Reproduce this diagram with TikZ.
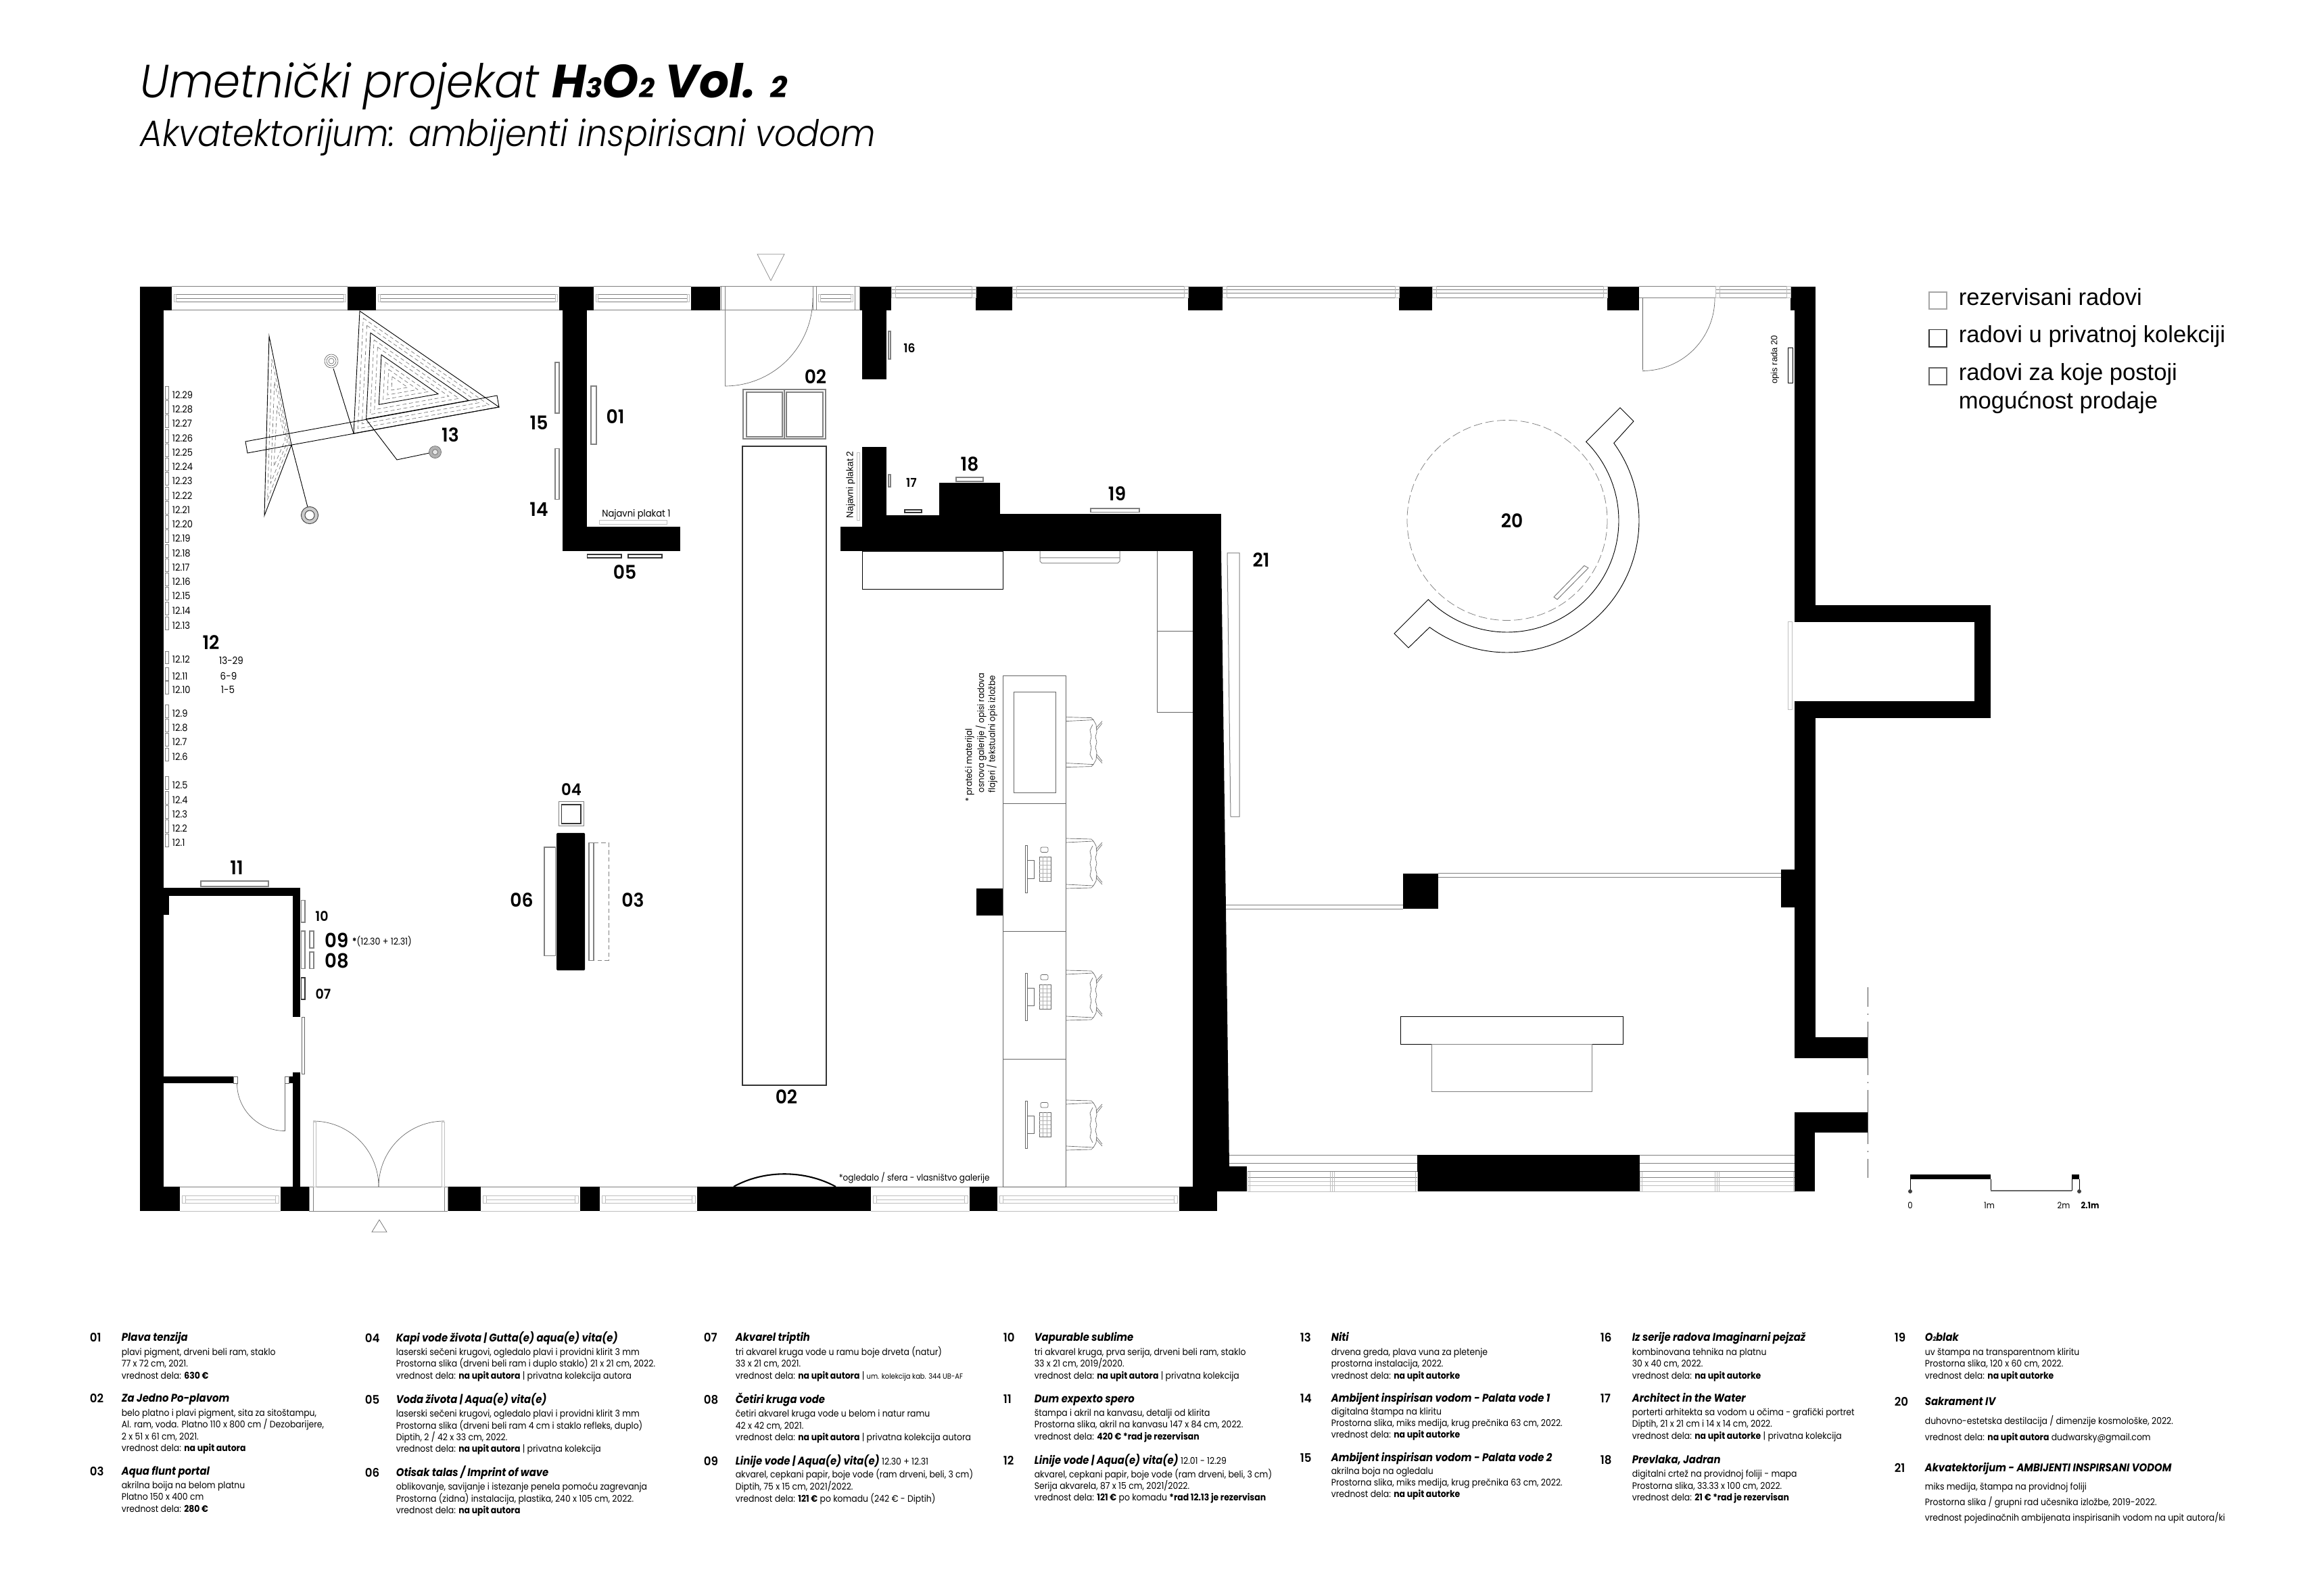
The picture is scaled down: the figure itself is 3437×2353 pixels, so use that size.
\documentclass[tikz,border=0pt]{standalone}
\usepackage{fontspec}
\usetikzlibrary{calc}
\setmainfont{Poppins}[FakeStretch=0.9]
\newfontfamily\ppf{Poppins}
\newfontfamily\ppm{Poppins SemiBold}[FakeStretch=0.95]
\newfontfamily\ppt{Poppins Light}[FakeStretch=0.93]
\newfontfamily\libf{Liberation Sans}
\newcounter{nn}
\newcommand\fsz[1]{\fontsize{\the\dimexpr #1pt*24/100\relax}{\the\dimexpr #1pt*30/100\relax}\selectfont}
\newcommand\tx[4][]{\stepcounter{nn}\node[inner sep=0pt,#1] (t\arabic{nn}) at (#2,#3) {#4};}
\newcommand\myNum[3]{\tx[anchor=base west]{#1}{#2+6}{\ppm\fsz{17.5}#3}}
\newcommand\myTit[3]{\tx[anchor=base west]{#1}{#2+5}{\fsz{16.5}\bfseries\itshape #3}}
\newcommand\myLine[3]{\tx[anchor=base west]{#1}{#2+4}{\fsz{13.8}#3}}
\newcommand\myLab[4]{\tx{#2}{#3}{\ppm\fsz{#1}#4}}
\newcommand\wall[4]{\fill[black] (#1,#2) rectangle (#3,#4);}
\newcommand\rc[5][ln]{\draw[#1] (#2,#3) rectangle (#4,#5);}
\newcommand\arcp[5][ln]{\draw[#1] plot[domain=#5,samples=40,smooth] ({#2+#4*cos(\x)},{#3+#4*sin(\x)});}
\newcommand\winA[2]{%
  \draw[lg] (#1,424)--(#2,424) (#1,459)--(#2,459) ({#1+3},436)--({#2-3},436) ({#1+3},447)--({#2-3},447) ({#1+6},442)--({#2-6},442);
  \draw[lgg] ({#1+3},436) rectangle ({#1+6},447) ({#2-6},436) rectangle ({#2-3},447);}
\newcommand\winBot[2]{%
  \draw[lg] (#1,1755)--(#2,1755);
  \draw[lgg] (#1,1791)--(#2,1791) ({#1+3},1768)--({#2-3},1768) ({#1+3},1779)--({#2-3},1779) ({#1+8},1774)--({#2-8},1774);
  \draw[lgg] ({#1+3},1768) rectangle ({#1+8},1779) ({#2-8},1768) rectangle ({#2-3},1779);}
\newcommand\winB[2]{%
  \draw[lg] (#1,424) rectangle (#2,441) (#1,429)--(#2,429) (#1,434)--(#2,434);
  \draw[lgg] (#1,424) rectangle ({#1+6},441) ({#2-6},424) rectangle (#2,441);}
\newcommand\winC[2]{%
  \draw[lg] (#1,1732.6)--(#2,1732.6) (#1,1741)--(#2,1741);
  \draw[lgg] (#1,1747)--(#2,1747) (#1,1753)--(#2,1753) (#1,1762)--(#2,1762);
  \draw[lgg] (#1,1732.6)--(#1,1762) ({#1+3},1732.6)--({#1+3},1762) ({#2-3},1732.6)--({#2-3},1762) (#2,1732.6)--(#2,1762);}
\newcommand\chair[1]{%
  \begin{scope}[shift={(1576,#1)}]
  \draw[lh] (1,-37)--(38,-36)--(41,-33)--(1,-31);
  \draw[lh] (1,37)--(38,36)--(41,33)--(1,31);
  \draw[lh] (41,-33)--(45,-26)--(46,-15)--(44,-8)--(46,0)--(44,8)--(46,15)--(45,26)--(41,33);
  \draw[lh] (40,-26)--(36,-18)--(38,-8)--(36,0)--(38,8)--(36,18)--(40,26);
  \draw[lh] (45,-21)--(54,-31) (46,-18)--(54,-28) (45,21)--(54,31) (46,18)--(54,28);
  \end{scope}}
\newcommand\comp[1]{%
  \begin{scope}[shift={(1483,#1)}]
  \draw[lh] (33,62) rectangle (36.5,132);
  \draw[lh] (36.5,84) rectangle (46,110.5);
  \draw[lh,rounded corners=0.5pt] (56,64.5) rectangle (67,72);
  \draw[lh] (54,79) rectangle (71,115);
  \foreach \k in {1,...,5}{\draw[line width=0.12pt,draw=black!30] (54,{79+6*\k})--(71,{79+6*\k});}
  \foreach \k in {1,2}{\draw[line width=0.12pt,draw=black!30] ({54+5.6*\k},79)--({54+5.6*\k},115);}
  \end{scope}}
\tikzset{
  ln/.style={line width=0.3pt,draw=black},
  lg/.style={line width=0.24pt,draw=black!50},
  lgg/.style={line width=0.24pt,draw=black!25},
  lh/.style={line width=0.16pt,draw=black!60},
  lk/.style={line width=0.22pt,draw=black},
  dsh/.style={line width=0.16pt,draw=black!55,dash pattern=on 1.4pt off 0.9pt},
  art/.style={line width=0.34pt,draw=black!50},
  artd/.style={line width=0.4pt,draw=black!80},
}
\begin{document}
\begin{tikzpicture}[x=0.24pt,y=-0.24pt]
\useasboundingbox (0,0) rectangle (3437,2353);
\fill[white] (0,0) rectangle (3437,2353);
% titles
\tx[anchor=base west]{207}{145}{\fsz{69}\itshape{\ppt Umetnički projekat }\ppf\bfseries H{\fsz{40}3}O{\fsz{40}2} Vol. {\fsz{44}2}}
\tx[anchor=base west]{207}{217}{\ppt\fsz{54.2}\itshape Akvatektorijum: ambijenti inspirisani vodom}
% outer walls
\wall{207}{424}{242}{1791}
\wall{207}{424}{254}{459}
\wall{207}{1755}{266}{1791}
\foreach \a/\b in {514/556,827/878,1022/1065,1271/1318,1443/1497,1757/1808,2069/2118,2377/2424,2648/2685}{\wall{\a}{424}{\b}{459}}
\winA{254}{514}\winA{556}{827}\winA{878}{1022}\winA{1207}{1264}
% door frames top
\draw[lg] (1065,424)--(1271,424) (1065,459)--(1271,459);
\draw[lg] (1066,424) rectangle (1072,459) (1202,424) rectangle (1207,459) (1264,424) rectangle (1271,459);
\draw[lg] (1072,441)--(1072,571);
\arcp[lh]{1072}{441}{130}{0:90}
\draw[line width=0.16pt,draw=black!50] (1140,415)--(1120,376)--(1160,376)--cycle;
% top windows right
\winB{1318}{1443}\winB{1497}{1757}\winB{1808}{2069}\winB{2118}{2377}
\winB{2537}{2648}
\draw[lg] (2424,424)--(2537,424) (2424,441)--(2537,441);
\draw[lh] (2429,441.5)--(2429,547);
\arcp[lh]{2429}{441.5}{107}{0:90}
% bottom
\foreach \a/\b in {415/457,662/711,858/887,1031/1288,1434/1475,1744/1800}{\wall{\a}{1755}{\b}{1791}}
\winBot{266}{415}\winBot{711}{858}\winBot{887}{1031}\winBot{1288}{1434}\winBot{1475}{1744}
\draw[lg] (457,1755)--(662,1755) (457,1791)--(662,1791);
\draw[lg] (457,1755)--(457,1791) (463,1755)--(463,1791) (657,1755)--(657,1791) (662,1755)--(662,1791);
\draw[lgg] (463,1659) rectangle (467,1755) (653,1659) rectangle (657,1755);
\arcp[lh]{463}{1755}{97}{-90:0}
\arcp[lh]{657}{1755}{97}{-180:-90}
\draw[lh] (561,1804)--(550,1822)--(572,1822)--cycle;
% mirror
\draw[line width=0.5pt,draw=black] (1085,1755) .. controls (1130,1730) and (1190,1730) .. (1236,1755);
% small room
\wall{207}{1313}{444}{1325}
\wall{207}{1313}{250}{1353}
\wall{433}{1313}{444}{1504}
\wall{433}{1586}{444}{1755}
\wall{242}{1592}{345}{1602}
\wall{427}{1592}{433}{1602}
\draw[lh] (345,1592) rectangle (351,1602) (421,1592) rectangle (427,1602);
\draw[lh] (446,1504) rectangle (450,1588);
\draw[lh] (421,1602)--(421,1673);
\arcp[lh]{421}{1602}{70.5}{90:180}
% wall 01/15/05
\wall{832}{459}{868}{779}
\wall{832}{779}{1006}{815}
% wall 16
\wall{1275}{459}{1311}{561}
% wall 17..19
\wall{1275}{661}{1311}{762}
\wall{1275}{762}{1806}{815}
\wall{1243}{779}{1275}{815}
\wall{1389}{714}{1479}{762}
\wall{1479}{760}{1806}{762}
\fill[black] (1764,815)--(1806,815)--(1818,1725)--(1764,1725)--cycle;
\wall{1764}{1725}{1844}{1762}
% right section
\draw[lg] (1818,1708)--(2096,1708) (1818,1720)--(2096,1720) (2425,1708)--(2655,1708) (2425,1720)--(2655,1720);
\wall{2096}{1708}{2425}{1762}
\winC{1845}{1970}\winC{1970}{2096}\winC{2425}{2539}\winC{2539}{2655}
\draw[lg] (1813,1339)--(2075,1339) (1813,1344.5)--(2075,1344.5) (2127,1292)--(2634,1292) (2127,1298)--(2634,1298);
\wall{2075}{1292}{2127}{1344.5}
\wall{2634}{1286}{2684}{1342}
% right wall
\wall{2654}{424}{2685}{920.5}
\wall{2654}{895.5}{2944}{920.5}
\wall{2920}{895.5}{2944}{1061.6}
\wall{2654}{1037.5}{2944}{1061.6}
\wall{2654}{1037.5}{2685}{1565}
\wall{2654}{1534}{2762}{1565}
\wall{2654}{1644.5}{2762}{1675}
\wall{2654}{1644.5}{2684}{1762}
\draw[lgg] (2644,920) rectangle (2650,1050);
\draw[lk] (2644,514) rectangle (2651,566);
\tx[rotate=90]{2625}{532}{\fsz{13}\libf opis rada 20}
\draw[line width=0.24pt,draw=black!70,dash pattern=on 19pt off 2.4pt on 0.5pt off 2.4pt,dash phase=12pt] (2762,1460)--(2762,1742);
% bench
\draw[lk] (2071,1503) rectangle (2400,1544);
\draw[lg] (2117,1544) rectangle (2354,1614);
% scale bar
\wall{2825}{1737}{2944}{1744}
\wall{3064}{1737}{3075}{1744}
\draw[lk] (2825,1744)--(2825,1762) (2944,1744)--(2944,1761) (3064,1744)--(3064,1761) (3075,1744)--(3075,1762);
\draw[line width=0.4pt,draw=black!60] (2944,1761)--(3064,1761);
\fill[black!75] (2825,1762) circle[radius=3];
\fill[black!75] (3075,1762) circle[radius=3];
\tx{2825}{1783}{\fsz{13}0}
\tx{2942}{1783}{\fsz{13}1m}
\tx{3052}{1783}{\fsz{13}2m}
\tx{3091}{1783}{\fsz{13}\bfseries 2.1m}
% artwork 20
\draw[line width=0.18pt,draw=black!50,dash pattern=on 3pt off 1.2pt] (2229,769.5) circle[radius=148];
\draw[lk] plot[domain=-45:135,samples=70,smooth] ({2229+165*cos(\x)},{770+165*sin(\x)}) -- (2062,937) -- (2083,958) -- (2114,928)
  -- plot[domain=126:-36,samples=70,smooth] ({2229+195*cos(\x)},{770+195*sin(\x)}) -- (2416,623) -- (2396,603) -- cycle;
\draw[lg] (2343,836.6)--(2349,840)--(2303,886.6)--(2298,883)--cycle;
% artwork 13
\coordinate (A) at (532,460);\coordinate (B) at (738,602);\coordinate (C) at (523,641);
\coordinate (I) at (580,557);\coordinate (J) at (603,573);\coordinate (K) at (579,577);
\foreach \t in {0,0.333,0.667}{\draw[lk] ($(A)!\t!(I)$)--($(B)!\t!(J)$)--($(C)!\t!(K)$)--cycle;}
\foreach \t in {0.11,0.22,0.44,0.55,0.78,0.89,1}{\draw[dsh] ($(A)!\t!(I)$)--($(B)!\t!(J)$)--($(C)!\t!(K)$)--cycle;}
\draw[lk] (398,497)--(431,658)--(391,762.5)--cycle;
\coordinate (P) at (398,497);\coordinate (Q) at (431,658);\coordinate (R) at (391,762.5);
\coordinate (S) at (410,600);\coordinate (T) at (422,650);\coordinate (U) at (405,690);
\foreach \t in {0.33,0.66,1}{\draw[dsh] ($(P)!\t!(S)$)--($(Q)!\t!(T)$)--($(R)!\t!(U)$)--cycle;}
\draw[lk] (363,653)--(735,585)--(738,602)--(366,670)--cycle;
\draw[lk] (431,658)--(455,750);
\draw[lk] (493,545)--(523,641);
\draw[lk] (542,621)--(587,680)--(635,670);
\draw[line width=0.24pt,draw=black!70,fill=black!20,even odd rule] (458,762) circle[radius=12.6] (458,762) circle[radius=7];
\draw[lh,fill=white] (490,534) circle[radius=10];
\draw[lh] (490,534) circle[radius=7] (490,534) circle[radius=4];
\draw[lh,fill=black!30] (643.5,668.6) circle[radius=9];
\draw[lh,fill=black!10] (643.5,668.6) circle[radius=4];
% art pieces
\rc[art]{821}{536}{827}{611}
\rc[art]{821}{663.5}{827}{738.5}
\rc[art]{874}{571}{882}{657}
\rc[lgg]{886}{770}{986}{776}
\rc[artd]{868.5}{820}{919}{825}
\rc[artd]{929}{820}{979}{825}
\rc[art]{1314}{490}{1317}{531}
\rc[art]{1314}{702}{1317}{720}
\rc[artd]{1338}{754}{1363}{758}
\rc[art]{1414}{706}{1454}{712}
\rc[art]{1613}{752}{1685}{757.5}
\rc[lgg]{1267}{670}{1271}{770}
\rc[art]{297}{1303}{397}{1311}
\rc[art]{445.5}{1331.5}{451}{1364}
\rc[art]{445.5}{1377}{451}{1432.5}
\rc[art]{458}{1377}{464}{1402}
\rc[art]{458}{1408}{464}{1432.5}
\rc[artd]{445.5}{1446}{451}{1478}
% free-standing
\rc[lg]{826}{1186}{863}{1222}
\rc[artd]{830.6}{1190}{859}{1218}
\fill[black,rounded corners=0.3pt] (823,1232) rectangle (865,1435);
\rc[art]{805}{1253}{821.5}{1413.6}
\rc[art]{871}{1246.5}{878}{1420.5}
\draw[line width=0.24pt,draw=black!50,dash pattern=on 1.6pt off 1pt] (878,1246.5)--(900,1246.5)--(900,1420.5)--(878,1420.5);
% 02
\rc[art]{1099}{576}{1221}{649}
\draw[art] (1160,576)--(1160,649);
\rc[art]{1104}{580}{1157}{646}
\rc[art]{1163}{580}{1217}{646}
\draw[line width=0.3pt,draw=black!80] (1098,660) rectangle (1222,1605);
% under wall
\draw[lk] (1275,815) rectangle (1483,871);
\draw[lg] (1538,815)--(1538,830) -- (1541,833)--(1653,833)--(1656,830)--(1656,815) (1538,825)--(1656,825);
\draw[lh] (1711,815)--(1711,1053)--(1764,1053) (1711,933)--(1764,933);
% tables
\draw[lh] (1483,999) rectangle (1576,1755);
\foreach \y in {1188.5,1377,1566}{\draw[lh] (1483,\y)--(1576,\y);}
\draw[lh] (1499,1023) rectangle (1561,1172);
\wall{1443.5}{1313.6}{1483}{1353.5}
\comp{1188.5}\comp{1377}\comp{1566}
\chair{1097.6}\chair{1277}\chair{1472}\chair{1664}
% 21
\draw[lg] (1815,818)--(1833,818)--(1833,1208)--(1820,1208)--cycle;
% 12.x
\foreach \n/\y in {29/584,28/605,27/626,26/648,25/669,24/690,23/711,22/733,21/754,20/775,19/796,18/818,17/839,16/860,15/881,14/903,13/925,
  12/975.6,11/1000,10/1020,9/1055,8/1076,7/1097,6/1119,5/1161,4/1183,3/1204,2/1225,1/1246}{
  \draw[lg] (244.5,{\y-12.3}) rectangle (249,{\y+6.3});
  \tx[anchor=west]{254}{\y}{\fsz{14.5}12.\n}
}
\tx[anchor=center]{342}{977}{\fsz{15}13-29}
\tx[anchor=center]{338}{1000}{\fsz{15}6-9}
\tx[anchor=center]{337}{1020}{\fsz{15}1-5}
% labels
\myLab{28}{797}{625}{15}
\myLab{28}{910}{616}{01}
\myLab{28}{797}{753.5}{14}
\myLab{28}{666}{643}{13}
\myLab{28}{924}{846}{05}
\myLab{28}{312}{950}{12}
\myLab{28}{350}{1283}{11}
\myLab{20}{476}{1355}{10}
\myLab{29}{498}{1391}{09}
\myLab{29}{498}{1421}{08}
\myLab{20}{478}{1470}{07}
\myLab{24}{845}{1168}{04}
\myLab{28}{771.5}{1331.5}{06}
\myLab{28}{936}{1331.5}{03}
\myLab{28}{1206}{557}{02}
\myLab{28}{1163}{1622}{02}
\myLab{18}{1345}{515}{16}
\myLab{18}{1348}{714}{17}
\myLab{28}{1434}{686}{18}
\myLab{28}{1652}{730}{19}
\myLab{28}{1865}{828}{21}
\myLab{28}{2236}{770}{20}
\tx[anchor=west]{520}{1392}{\fsz{14}\textbf{*}(12.30 + 12.31)}
\tx{941}{761}{\fsz{14.5}Najavni plakat 1}
\tx[rotate=90]{1258}{717}{\fsz{14}\libf Najavni plakat 2}
\tx[anchor=west]{1240}{1742}{\fsz{13.4}*ogledalo / sfera - vlasništvo galerije}
\tx[rotate=90,anchor=west]{1434}{1186}{\fsz{13.2}* prateći materijal}
\tx[rotate=90,anchor=west]{1451}{1173}{\fsz{13.2}osnova galerije / opisi radova}
\tx[rotate=90,anchor=west]{1467}{1173}{\fsz{13.2}flajeri / tekstualni opis izložbe}
% legend
\draw[line width=0.4pt,draw=black!35] (2853,432) rectangle (2879,457);
\draw[line width=0.4pt,draw=black!80] (2853,487.5) rectangle (2879,513);
\draw[line width=0.4pt,draw=black!60] (2853,544) rectangle (2879,569);
\tx[anchor=west]{2896}{439}{\libf\fsz{34.6}rezervisani radovi}
\tx[anchor=west]{2896}{498}{\libf\fsz{34.6}radovi u privatnoj kolekciji}
\tx[anchor=west]{2896}{554}{\libf\fsz{34.6}radovi za koje postoji}
\tx[anchor=west]{2896}{595}{\libf\fsz{34.6}mogućnost prodaje}
% list col 1
\myNum{132}{1978}{01}\myTit{179}{1978}{Plava tenzija}
\myLine{179}{2000}{plavi pigment, drveni beli ram, staklo}
\myLine{179}{2017}{77 x 72 cm, 2021.}
\myLine{179}{2035}{vrednost dela: \textbf{630 €}}
\myNum{132}{2068}{02}\myTit{179}{2068}{Za Jedno Po-plavom}
\myLine{179}{2090}{belo platno i plavi pigment, sita za sitoštampu,}
\myLine{179}{2107}{Al. ram, voda. Platno 110 x  800 cm / Dezobarijere,}
\myLine{179}{2125}{2 x 51 x 61 cm, 2021.}
\myLine{179}{2142}{vrednost dela: \textbf{na upit autora}}
\myNum{132}{2176}{03}\myTit{179}{2176}{Aqua flunt portal}
\myLine{179}{2197}{akrilna boija na belom platnu}
\myLine{179}{2214}{Platno 150 x  400 cm}
\myLine{179}{2232}{vrednost dela: \textbf{280 €}}
% col 2
\myNum{539}{1979}{04}\myTit{585}{1979}{Kapi vode života | Gutta(e) aqua(e) vita(e)}
\myLine{585}{2000}{laserski sečeni krugovi, ogledalo plavi i providni klirit 3 mm}
\myLine{585}{2017}{Prostorna slika (drveni beli ram i duplo staklo) 21 x 21 cm, 2022.}
\myLine{585}{2035}{vrednost dela: \textbf{na upit autora} | privatna kolekcija autora}
\myNum{539}{2070}{05}\myTit{585}{2070}{Voda života | Aqua(e) vita(e)}
\myLine{585}{2091}{laserski sečeni krugovi, ogledalo plavi i providni klirit 3 mm}
\myLine{585}{2109}{Prostorna slika (drveni beli ram 4 cm i staklo refleks, duplo)}
\myLine{585}{2126}{Diptih,  2 / 42 x 33 cm, 2022.}
\myLine{585}{2143}{vrednost dela: \textbf{na upit autora} | privatna kolekcija}
\myNum{539}{2178}{06}\myTit{585}{2178}{Otisak talas / Imprint of wave}
\myLine{585}{2199}{oblikovanje, savijanje i istezanje penela pomoću zagrevanja}
\myLine{585}{2217}{Prostorna (zidna) instalacija, plastika, 240 x 105 cm, 2022.}
\myLine{585}{2234}{vrednost dela: \textbf{na upit autora}}
% col 3
\myNum{1040}{1978}{07}\myTit{1087}{1978}{Akvarel triptih}
\myLine{1087}{2000}{tri akvarel kruga vode u ramu boje drveta (natur)}
\myLine{1087}{2017}{33 x 21 cm, 2021.}
\myLine{1087}{2035}{vrednost dela: \textbf{na upit autora} | {\fsz{11}um. kolekcija kab. 344 UB-AF}}
\myNum{1040}{2070}{08}\myTit{1087}{2070}{Četiri kruga vode}
\myLine{1087}{2091}{četiri akvarel kruga vode u belom i natur ramu}
\myLine{1087}{2109}{42 x  42 cm, 2021.}
\myLine{1087}{2126}{vrednost dela: \textbf{na upit autora}  | privatna kolekcija autora}
\myNum{1040}{2161}{09}\myTit{1087}{2161}{Linije vode | Aqua(e) vita(e) {\mdseries\upshape\fsz{13.8}12.30 + 12.31}}
\myLine{1087}{2181}{akvarel, cepkani papir, boje vode (ram drveni, beli, 3 cm)}
\myLine{1087}{2199}{Diptih, 75 x  15 cm, 2021/2022.}
\myLine{1087}{2217}{vrednost dela: \textbf{121 €} po komadu (242 € - Diptih)}
% col 4
\myNum{1483}{1978}{10}\myTit{1529}{1978}{Vapurable sublime}
\myLine{1529}{2000}{tri akvarel kruga, prva serija, drveni beli ram, staklo}
\myLine{1529}{2017}{33 x 21 cm, 2019/2020.}
\myLine{1529}{2035}{vrednost dela:  \textbf{na upit autora}  | privatna kolekcija}
\myNum{1483}{2069}{11}\myTit{1529}{2069}{Dum expexto spero}
\myLine{1529}{2090}{štampa i akril na kanvasu, detalji od klirita}
\myLine{1529}{2107}{Prostorna slika, akril na kanvasu 147 x  84 cm, 2022.}
\myLine{1529}{2125}{vrednost dela: \textbf{420 € *rad je rezervisan}}
\myNum{1483}{2160}{12}\myTit{1529}{2160}{Linije vode | Aqua(e) vita(e) {\mdseries\upshape\fsz{13.8}12.01 - 12.29}}
\myLine{1529}{2181}{akvarel, cepkani papir, boje vode (ram drveni, beli, 3 cm)}
\myLine{1529}{2198}{Serija akvarela, 87 x  15 cm, 2021/2022.}
\myLine{1529}{2215}{vrednost dela: \textbf{121 €} po komadu \textbf{*rad 12.13 je rezervisan}}
% col 5
\myNum{1922}{1978}{13}\myTit{1968}{1978}{Niti}
\myLine{1968}{2000}{drvena greda, plava vuna za pletenje}
\myLine{1968}{2017}{prostorna instalacija, 2022.}
\myLine{1968}{2035}{vrednost dela: \textbf{na upit autorke}}
\myNum{1922}{2068}{14}\myTit{1968}{2068}{Ambijent inspirisan vodom - Palata vode 1}
\myLine{1968}{2088}{digitalna štampa na kliritu}
\myLine{1968}{2105}{Prostorna slika, miks medija, krug prečnika 63 cm, 2022.}
\myLine{1968}{2122}{vrednost dela: \textbf{na upit autorke}}
\myNum{1922}{2156}{15}\myTit{1968}{2156}{Ambijent inspirisan vodom - Palata vode 2}
\myLine{1968}{2176}{akrilna boja na ogledalu}
\myLine{1968}{2193}{Prostorna slika, miks medija, krug prečnika 63 cm, 2022.}
\myLine{1968}{2210}{vrednost dela: \textbf{na upit autorke}}
% col 6
\myNum{2366}{1978}{16}\myTit{2413}{1978}{Iz serije radova Imaginarni pejzaž}
\myLine{2413}{2000}{kombinovana tehnika na platnu}
\myLine{2413}{2017}{30 x 40 cm, 2022.}
\myLine{2413}{2035}{vrednost dela: \textbf{na upit autorke}}
\myNum{2366}{2068}{17}\myTit{2413}{2068}{Architect in the Water}
\myLine{2413}{2089}{porterti arhitekta sa vodom u očima - grafički portret}
\myLine{2413}{2106}{Diptih, 21 x 21 cm i 14 x 14 cm, 2022.}
\myLine{2413}{2124}{vrednost dela: \textbf{na upit autorke}  | privatna kolekcija}
\myNum{2366}{2159}{18}\myTit{2413}{2159}{Prevlaka, Jadran}
\myLine{2413}{2180}{digitalni crtež na providnoj foliji - mapa}
\myLine{2413}{2198}{Prostorna slika, 33.33 x 100 cm, 2022.}
\myLine{2413}{2215}{vrednost dela: \textbf{21 € *rad je rezervisan}}
% col 7
\myNum{2801}{1978}{19}\myTit{2846}{1978}{O{\fsz{9}2}blak}
\myLine{2846}{2000}{uv štampa na transparentnom kliritu}
\myLine{2846}{2017}{Prostorna slika, 120 x 60 cm, 2022.}
\myLine{2846}{2035}{vrednost dela: \textbf{na upit autorke}}
\myNum{2801}{2073}{20}\myTit{2846}{2073}{Sakrament IV}
\myLine{2846}{2102}{duhovno-estetska destilacija / dimenzije kosmološke, 2022.}
\myLine{2846}{2126}{vrednost dela: \textbf{na upit autora} dudwarsky@gmail.com}
\myNum{2801}{2171}{21}\myTit{2846}{2171}{Akvatektorijum - AMBIJENTI INSPIRSANI VODOM}
\myLine{2846}{2199}{miks medija, štampa na providnoj foliji}
\myLine{2846}{2222}{Prostorna slika / grupni rad učesnika izložbe, 2019-2022.}
\myLine{2846}{2245}{vrednost pojedinačnih ambijenata inspirisanih vodom na upit autora/ki}
\end{tikzpicture}
\end{document}
